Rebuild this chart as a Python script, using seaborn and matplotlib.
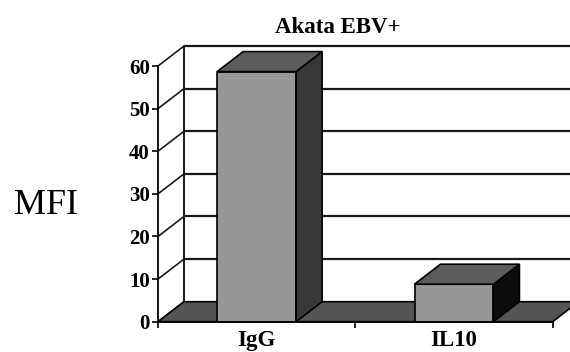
import matplotlib
matplotlib.use("Agg")
import matplotlib.pyplot as plt
from matplotlib.patches import Polygon
import numpy as np
import pandas as pd
import seaborn as sns

# Data
categories = ["IgG", "IL10"]
mfi_values = [58.7, 8.8]
y_ticks = [0, 10, 20, 30, 40, 50, 60]
title = "Akata EBV+"
y_label = "MFI"

sns.set_style("white")
plt.rcParams["font.family"] = ["Liberation Serif", "DejaVu Serif"]
plt.rcParams["text.color"] = "black"
plt.rcParams["axes.labelcolor"] = "black"
plt.rcParams["xtick.color"] = "black"
plt.rcParams["ytick.color"] = "black"

FRONT = "#969696"
TOP = "#5c5c5c"
SIDES = ["#383838", "#0c0c0c"]
FLOOR = "#555555"
LINE = "#1a1a1a"

W, H = 570, 352
fig = plt.figure(figsize=(W / 100, H / 100), dpi=100)
ax = fig.add_axes([158 / W, (H - 321.7) / H, 412 / W, 275.7 / H])

df = pd.DataFrame({"cat": categories, "val": mfi_values})
sns.barplot(data=df, x="cat", y="val", width=0.4, color=FRONT, saturation=1,
            edgecolor="black", linewidth=1.2, ax=ax, zorder=4)

x_left, x_right = -0.5, len(categories) - 0.5
ax.set_xlim(x_left, 1.588)
ax.set_ylim(0, 64.7)

# depth of the pseudo-3D box, in data units
DX, DY = 0.1317, 4.69

# back wall gridlines and top edge
for v in y_ticks[1:]:
    ax.plot([x_left + DX, 1.588 + 0.01], [v + DY, v + DY], color=LINE, lw=1.6,
            zorder=1, clip_on=False, solid_capstyle="butt")
# back wall left edge
ax.plot([x_left + DX, x_left + DX], [DY, y_ticks[-1] + DY], color=LINE, lw=1.4,
        zorder=1, clip_on=False)
# side wall diagonals
for v in y_ticks:
    ax.plot([x_left, x_left + DX], [v, v + DY], color=LINE, lw=1.2, zorder=1,
            clip_on=False)

# floor
floor = Polygon([(x_left, 0), (x_right, 0), (x_right + DX, DY), (x_left + DX, DY)],
                closed=True, facecolor=FLOOR, edgecolor="black", lw=1.2,
                zorder=2, clip_on=False)
ax.add_patch(floor)

# bar tops and sides
for i, bar in enumerate(list(ax.patches)[:len(categories)]):
    x0, w, h = bar.get_x(), bar.get_width(), bar.get_height()
    top = Polygon([(x0, h), (x0 + w, h), (x0 + w + DX, h + DY), (x0 + DX, h + DY)],
                  closed=True, facecolor=TOP, edgecolor="black", lw=1.2, zorder=4)
    side = Polygon([(x0 + w, 0), (x0 + w + DX, DY), (x0 + w + DX, h + DY), (x0 + w, h)],
                   closed=True, facecolor=SIDES[i], edgecolor="black", lw=1.2, zorder=4)
    ax.add_patch(side)
    ax.add_patch(top)

# axes lines
for s in ["top", "right"]:
    ax.spines[s].set_visible(False)
ax.spines["left"].set_bounds(0, y_ticks[-1])
ax.spines["bottom"].set_bounds(x_left, x_right)
for s in ["left", "bottom"]:
    ax.spines[s].set_color("black")
    ax.spines[s].set_linewidth(1.3)
    ax.spines[s].set_zorder(5)

ax.set_yticks(y_ticks)
ax.set_yticklabels([str(t) for t in y_ticks], fontweight="bold", fontsize=15)
ax.tick_params(axis="y", direction="out", length=4, width=1.2, pad=2, left=True)

ax.set_xticks(range(len(categories)))
ax.set_xticklabels(categories, fontweight="bold", fontsize=16.5)
ax.tick_params(axis="x", which="major", length=0, pad=6)
ax.set_xticks([x_left, 0.5, x_right], minor=True)
ax.tick_params(axis="x", which="minor", direction="out", length=4, width=1.2, bottom=True)

ax.set_xlabel("")
ax.set_ylabel(y_label, fontsize=26, rotation=0, ha="center", va="center")
ax.yaxis.set_label_coords((46 - 158) / 412, (321.7 - 205) / 275.7)

ax.set_title(title, fontweight="bold", fontsize=16.5, x=(338 - 158) / 412,
             y=1 + 13.3 / 275.7, pad=0)
ax.grid(False)

fig.savefig("out.png", dpi=100)
